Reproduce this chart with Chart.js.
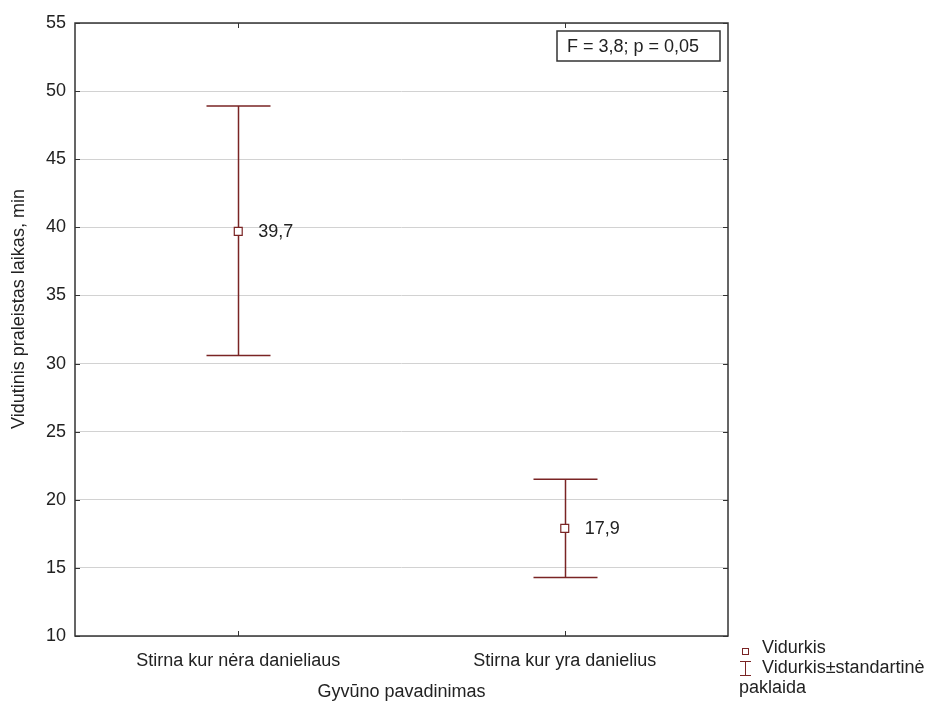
<!DOCTYPE html>
<html>
<head>
<meta charset="utf-8">
<script src="https://cdn.jsdelivr.net/npm/chart.js@4/dist/chart.umd.min.js"></script>
<style>
  html, body { margin: 0; padding: 0; background: #ffffff; }
  #wrap { width: 939px; height: 702px; position: relative; }
</style>
</head>
<body>
<div id="wrap"><canvas id="chart"></canvas></div>
<script>
// Group names along the x axis
const groups = ['Stirna kur nėra danieliaus', 'Stirna kur yra danielius'];
// Mean time per group (min)
const means = [39.7, 17.9];
// Mean ± standard error bounds
const upperBounds = [48.9, 21.5];
const lowerBounds = [30.6, 14.3];
// Value labels beside each mean
const meanLabels = ['39,7', '17,9'];
// Y axis range and tick step
const yMin = 10, yMax = 55, yStep = 5;
// Text elements
const xTitle = 'Gyvūno pavadinimas';
const yTitle = 'Vidutinis praleistas laikas, min';
const statText = 'F = 3,8; p = 0,05';
const legendMean = 'Vidurkis';
const legendErrLine1 = 'Vidurkis±standartinė';
const legendErrLine2 = 'paklaida';

const FONT = '"Liberation Sans", Arial, sans-serif';
const FS = 18;
const TEXT = '#222222';
const BAR = '#7a2424';
const FRAME = '#333333';

const decorations = {
  id: 'decorations',
  beforeDatasetsDraw(chart) {
    const { ctx, chartArea: a, scales: { x, y } } = chart;
    ctx.save();
    // frame
    ctx.strokeStyle = FRAME;
    ctx.lineWidth = 1.5;
    ctx.strokeRect(a.left, a.top, a.right - a.left, a.bottom - a.top);
    // inner tick marks on all four sides
    ctx.lineWidth = 1;
    y.ticks.forEach(t => {
      const py = Math.round(y.getPixelForValue(t.value)) + 0.5;
      ctx.beginPath();
      ctx.moveTo(a.left, py); ctx.lineTo(a.left + 5, py);
      ctx.moveTo(a.right, py); ctx.lineTo(a.right - 5, py);
      ctx.stroke();
    });
    groups.forEach((g, i) => {
      const px = Math.round(x.getPixelForValue(i)) + 0.5;
      ctx.beginPath();
      ctx.moveTo(px, a.top); ctx.lineTo(px, a.top + 5);
      ctx.moveTo(px, a.bottom); ctx.lineTo(px, a.bottom - 5);
      ctx.stroke();
    });
    // error bars
    ctx.strokeStyle = BAR;
    ctx.lineWidth = 1.5;
    const capHalf = 32;
    groups.forEach((g, i) => {
      const px = Math.round(x.getPixelForValue(i)) + 0.5;
      const pu = y.getPixelForValue(upperBounds[i]);
      const pl = y.getPixelForValue(lowerBounds[i]);
      ctx.beginPath();
      ctx.moveTo(px, pu); ctx.lineTo(px, pl);
      ctx.moveTo(px - capHalf, pu); ctx.lineTo(px + capHalf, pu);
      ctx.moveTo(px - capHalf, pl); ctx.lineTo(px + capHalf, pl);
      ctx.stroke();
    });
    ctx.restore();
  },
  afterDatasetsDraw(chart) {
    const { ctx, chartArea: a, scales: { x, y } } = chart;
    ctx.save();
    ctx.fillStyle = TEXT;
    ctx.font = FS + 'px ' + FONT;
    ctx.textBaseline = 'middle';
    // value labels
    means.forEach((m, i) => {
      ctx.textAlign = 'left';
      ctx.fillText(meanLabels[i], x.getPixelForValue(i) + 20, y.getPixelForValue(m) + 1);
    });
    // statistics box
    ctx.strokeStyle = FRAME;
    ctx.lineWidth = 1.5;
    ctx.strokeRect(557, 31, 163, 30);
    ctx.textAlign = 'left';
    ctx.fillText(statText, 567, 47);
    // axis titles
    ctx.textAlign = 'center';
    ctx.fillText(xTitle, (a.left + a.right) / 2, 692);
    ctx.save();
    ctx.translate(19, 309);
    ctx.rotate(-Math.PI / 2);
    ctx.fillText(yTitle, 0, 0);
    ctx.restore();
    // legend
    ctx.textAlign = 'left';
    ctx.fillText(legendMean, 762, 648);
    ctx.fillText(legendErrLine1, 762, 668);
    ctx.fillText(legendErrLine2, 739, 688);
    ctx.strokeStyle = BAR;
    ctx.lineWidth = 1;
    ctx.strokeRect(742.5, 648.5, 6, 6);
    ctx.beginPath();
    ctx.moveTo(745.5, 661); ctx.lineTo(745.5, 676);
    ctx.moveTo(740, 661.5); ctx.lineTo(751, 661.5);
    ctx.moveTo(740, 675.5); ctx.lineTo(751, 675.5);
    ctx.stroke();
    ctx.restore();
  }
};

new Chart(document.getElementById('chart'), {
  type: 'line',
  data: {
    labels: groups,
    datasets: [{
      label: legendMean,
      data: means,
      showLine: false,
      pointStyle: 'rect',
      pointRadius: 5.6,
      pointHoverRadius: 5.6,
      pointBorderWidth: 1.2,
      pointBorderColor: BAR,
      pointBackgroundColor: '#ffffff'
    }]
  },
  options: {
    responsive: true,
    maintainAspectRatio: false,
    animation: false,
    events: [],
    layout: { padding: { top: 23, right: 211, left: 0, bottom: 0 } },
    plugins: { legend: { display: false }, tooltip: { enabled: false } },
    scales: {
      x: {
        type: 'category',
        offset: true,
        grid: { display: false, drawTicks: false },
        border: { display: false },
        ticks: { color: TEXT, font: { size: FS, family: FONT }, padding: 14, maxRotation: 0 },
        afterFit(scale) { scale.height = 66; }
      },
      y: {
        min: yMin,
        max: yMax,
        grid: { color: '#d2d2d2', lineWidth: 1, drawTicks: false },
        border: { display: false },
        ticks: { stepSize: yStep, color: TEXT, font: { size: FS, family: FONT }, padding: 9 },
        afterFit(scale) { scale.width = 75; }
      }
    }
  },
  plugins: [decorations]
});
</script>
</body>
</html>
